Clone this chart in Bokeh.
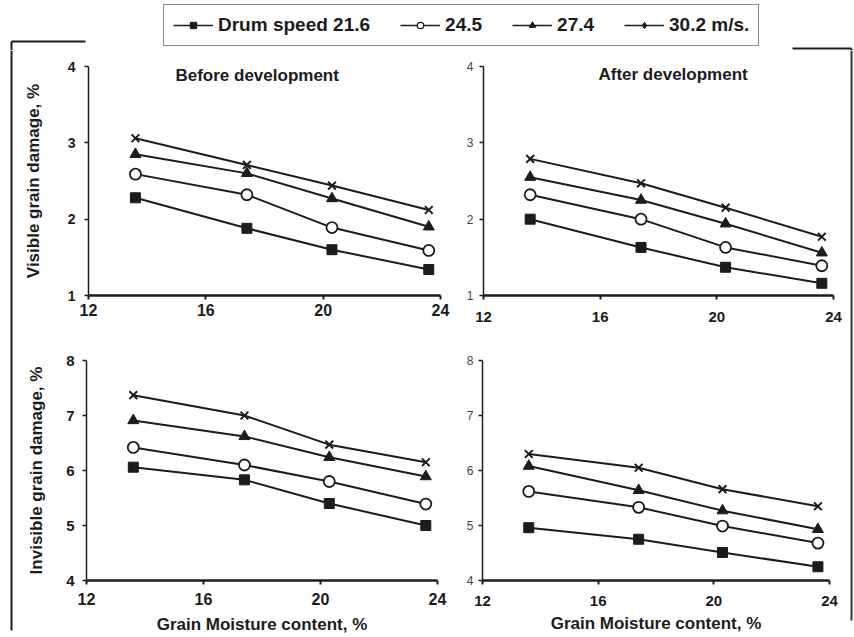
from bokeh.plotting import figure
from bokeh.models import Range1d, FixedTicker, Label, Legend, LegendItem
from bokeh.layouts import column, row
from bokeh.embed import file_html
from bokeh.resources import INLINE

# ---------------- data ----------------
moisture = [13.6, 17.4, 20.3, 23.6]
speeds = ["21.6", "24.5", "27.4", "30.2"]
legend_labels = ["Drum speed 21.6", "24.5", "27.4", "30.2 m/s."]

visible_before_216 = [2.28, 1.88, 1.60, 1.34]
visible_before_245 = [2.59, 2.32, 1.89, 1.59]
visible_before_274 = [2.85, 2.60, 2.27, 1.90]
visible_before_302 = [3.06, 2.71, 2.44, 2.12]

visible_after_216 = [2.00, 1.63, 1.37, 1.16]
visible_after_245 = [2.32, 2.00, 1.63, 1.39]
visible_after_274 = [2.55, 2.25, 1.94, 1.56]
visible_after_302 = [2.79, 2.47, 2.15, 1.77]

invisible_before_216 = [6.06, 5.83, 5.40, 5.00]
invisible_before_245 = [6.42, 6.10, 5.80, 5.39]
invisible_before_274 = [6.91, 6.62, 6.24, 5.89]
invisible_before_302 = [7.37, 7.00, 6.47, 6.15]

invisible_after_216 = [4.96, 4.75, 4.51, 4.25]
invisible_after_245 = [5.62, 5.33, 4.99, 4.68]
invisible_after_274 = [6.08, 5.64, 5.27, 4.93]
invisible_after_302 = [6.30, 6.05, 5.66, 5.35]

x_ticks = [12, 16, 20, 24]
visible_ticks = [1, 2, 3, 4]
invisible_ticks = [4, 5, 6, 7, 8]

# ---------------- styles ----------------
INK = "#1c1c1c"
FONT = "Liberation Sans"
marker_styles = [
    dict(marker="square", size=10, fill_color=INK, line_color=INK, line_width=1),
    dict(marker="circle", size=11, fill_color="white", line_color=INK, line_width=1.8),
    dict(marker="triangle", size=11, fill_color=INK, line_color=INK, line_width=1),
    dict(marker="x", size=11, fill_color=None, line_color=INK, line_width=2),
]


def bare(width, height, xr, yr):
    f = figure(width=width, height=height, x_range=Range1d(*xr), y_range=Range1d(*yr),
               output_backend="svg", toolbar_location=None, x_axis_type=None, y_axis_type=None,
               min_border_left=0, min_border_right=0, min_border_top=0, min_border_bottom=0)
    f.outline_line_color = None
    f.xgrid.visible = False
    f.ygrid.visible = False
    return f


def panel(width, height, borders, y_lo, y_hi, y_ticks, series, *, ylab=None, xlab=None,
          title=None, title_xy=None, ytick_style=("14px", "bold", INK), xtick_size="16px",
          xtick_standoff=6, ytick_standoff=9, ylab_standoff=22, xlab_standoff=3):
    left, right, top, bottom = borders
    p = figure(width=width, height=height, x_range=Range1d(12, 24), y_range=Range1d(y_lo, y_hi),
               output_backend="svg", toolbar_location=None,
               min_border_left=left, min_border_right=right,
               min_border_top=top, min_border_bottom=bottom)
    p.outline_line_color = None
    p.background_fill_color = "white"
    p.border_fill_color = "white"
    p.xgrid.visible = False
    p.ygrid.visible = False
    p.xaxis.ticker = FixedTicker(ticks=x_ticks)
    p.yaxis.ticker = FixedTicker(ticks=y_ticks)
    for ax in (p.xaxis, p.yaxis):
        ax.minor_tick_line_color = None
        ax.major_tick_out = 4
        ax.major_tick_in = 0
        ax.major_tick_line_color = INK
        ax.axis_line_color = INK
        ax.major_label_text_font = FONT
        ax.axis_label_text_font = FONT
        ax.axis_label_text_font_style = "bold"
        ax.axis_label_text_font_size = "17px"
        ax.axis_label_text_color = INK
    p.xaxis.axis_line_width = 2.5
    p.xaxis.major_tick_line_width = 2
    p.yaxis.axis_line_width = 1.5
    p.yaxis.major_tick_line_width = 1.5
    p.xaxis.major_label_text_font_size = xtick_size
    p.xaxis.major_label_text_font_style = "bold"
    p.xaxis.major_label_text_color = INK
    p.xaxis.major_label_standoff = xtick_standoff
    p.yaxis.major_label_text_font_size = ytick_style[0]
    p.yaxis.major_label_text_font_style = ytick_style[1]
    p.yaxis.major_label_text_color = ytick_style[2]
    p.yaxis.major_label_standoff = ytick_standoff
    if ylab:
        p.yaxis.axis_label = ylab
        p.yaxis.axis_label_standoff = ylab_standoff
    if xlab:
        p.xaxis.axis_label = xlab
        p.xaxis.axis_label_standoff = xlab_standoff
    for vals in series:
        p.line(moisture, vals, line_color=INK, line_width=2)
    for vals, ms in zip(series, marker_styles):
        p.scatter(moisture, vals, **ms)
    if title:
        p.add_layout(Label(x=title_xy[0], y=title_xy[1], text=title, text_font=FONT,
                           text_font_style="bold", text_font_size="17px", text_color=INK,
                           text_align="center", text_baseline="middle"))
    return p


tl = panel(436, 285, (72, 12, 16, 40), 1, 4, visible_ticks,
           [visible_before_216, visible_before_245, visible_before_274, visible_before_302],
           ylab="Visible grain damage, %", title="Before development", title_xy=(17.75, 3.885),
           xtick_standoff=4, ytick_standoff=9, ylab_standoff=22)
tr = panel(390, 285, (31, 9, 16, 40), 1, 4, visible_ticks,
           [visible_after_216, visible_after_245, visible_after_274, visible_after_302],
           title="After development", title_xy=(18.5, 3.89),
           ytick_style=("12px", "normal", "#444444"), xtick_size="15px",
           xtick_standoff=12, ytick_standoff=6)
bl = panel(436, 302, (70, 15, 25, 57), 4, 8, invisible_ticks,
           [invisible_before_216, invisible_before_245, invisible_before_274, invisible_before_302],
           ylab="Invisible grain damage, %", xlab="Grain Moisture content, %",
           ytick_style=("15px", "bold", INK), xtick_standoff=8, ytick_standoff=8,
           ylab_standoff=17, xlab_standoff=7)
br = panel(390, 302, (30, 13, 25, 57), 4, 8, invisible_ticks,
           [invisible_after_216, invisible_after_245, invisible_after_274, invisible_after_302],
           xlab="Grain Moisture content, %",
           ytick_style=("12px", "normal", "#444444"), xtick_size="15px",
           xtick_standoff=11, ytick_standoff=5, xlab_standoff=5)

# ---------------- legend strip with the frame's top edge ----------------
LW, LH = 854, 50
lf = bare(LW, LH, (0, LW), (LH, 0))
frame_x0 = [11, 11, 792, 851]
frame_y0 = [41, 41, 48, 48]
frame_x1 = [85, 11, 851, 851]
frame_y1 = [41, 50, 48, 50]
lf.segment(x0=frame_x0, y0=frame_y0, x1=frame_x1, y1=frame_y1, line_color=INK, line_width=2)

legend_markers = [
    dict(marker="square", size=8, fill_color=INK, line_color=INK),
    dict(marker="circle", size=8, fill_color="white", line_color=INK, line_width=1.3),
    dict(marker="triangle", size=8, fill_color=INK, line_color=INK),
    dict(marker="diamond", size=8, fill_color=INK, line_color=INK),
]
items = []
for lab, ms in zip(legend_labels, legend_markers):
    # off-canvas proxies: only their legend swatches are visible
    lr = lf.line(x=[-500, -400], y=[-500, -500], line_color=INK, line_width=1.6)
    sr = lf.scatter(x=[-500], y=[-500], **ms)
    items.append(LegendItem(label=lab, renderers=[lr, sr]))
legend = Legend(items=items, orientation="horizontal", location=(163, 4),
                border_line_color=INK, border_line_width=1.5, background_fill_color="white",
                label_text_font=FONT, label_text_font_style="bold", label_text_font_size="19px",
                label_text_color=INK, glyph_width=40, glyph_height=16, label_standoff=5,
                spacing=30, padding=9, margin=0)
lf.add_layout(legend, "center")

# ---------------- side edges of the frame ----------------
BH = 587
lb = bare(16, BH, (0, 16), (BH, 0))
lb.segment(x0=[11], y0=[0], x1=[11], y1=[580], line_color=INK, line_width=2)

rb = bare(12, BH, (0, 12), (BH, 0))
rb.segment(x0=[9], y0=[0], x1=[9], y1=[570], line_color="#333333", line_width=2)

layout = column(lf, row(lb, column(row(tl, tr), row(bl, br)), rb))

open("out.html", "w").write(file_html(layout, INLINE))
